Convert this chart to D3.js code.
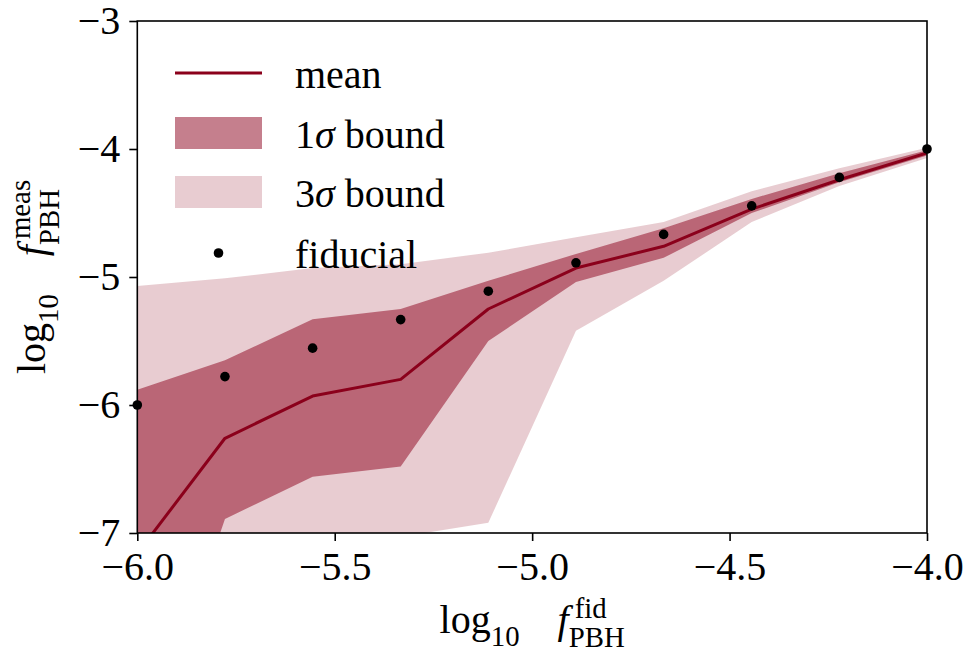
<!DOCTYPE html>
<html>
<head>
<meta charset="utf-8">
<script src="https://cdn.jsdelivr.net/npm/d3@7/dist/d3.min.js"></script>
<style>
  body { margin: 0; background: #fff; }
  svg { display: block; }
  text { font-family: "Liberation Serif", "DejaVu Serif", serif; fill: #000; }
</style>
</head>
<body>
<div id="chart"></div>
<script>
// log10 f_PBH on the fiducial grid
const fidX = [-6.000, -5.778, -5.556, -5.333, -5.111, -4.889, -4.667, -4.444, -4.222, -4.000];
// fiducial (true) value at each grid point
const fidY = [-6.000, -5.778, -5.556, -5.333, -5.111, -4.889, -4.667, -4.444, -4.222, -4.000];
// recovered mean
const meanY = [-7.16, -6.26, -5.93, -5.80, -5.25, -4.93, -4.76, -4.47, -4.24, -4.03];
// 1 sigma band
const lo1 = [-8.90, -6.89, -6.56, -6.48, -5.50, -5.04, -4.85, -4.50, -4.26, -4.05];
const hi1 = [-5.88, -5.65, -5.33, -5.25, -5.03, -4.82, -4.62, -4.39, -4.19, -4.01];
// 3 sigma band
const lo3 = [-10.5, -7.80, -7.30, -7.03, -6.92, -5.42, -5.03, -4.57, -4.29, -4.07];
const hi3 = [-5.07, -5.01, -4.93, -4.90, -4.81, -4.69, -4.57, -4.33, -4.15, -3.99];

const xTicks = [-6.0, -5.5, -5.0, -4.5, -4.0];
const yTicks = [-7, -6, -5, -4, -3];
const legendLabels = ["mean", "1σ bound", "3σ bound", "fiducial"];

const W = 973, H = 652;
const M = { left: 137.3, right: W - 927, top: 21, bottom: H - 533 };
const baseColor = "rgb(139,0,27)";
const FS = 40;

const svg = d3.select("#chart").append("svg").attr("width", W).attr("height", H);

const x = d3.scaleLinear().domain([-6, -4]).range([M.left, W - M.right]);
const y = d3.scaleLinear().domain([-7, -3]).range([H - M.bottom, M.top]);

svg.append("defs").append("clipPath").attr("id", "plotClip")
  .append("rect")
  .attr("x", M.left).attr("y", M.top)
  .attr("width", W - M.left - M.right).attr("height", H - M.top - M.bottom);

const plot = svg.append("g").attr("clip-path", "url(#plotClip)");

const idx = d3.range(fidX.length);
const band = (lo, hi) => d3.area()
  .x(i => x(fidX[i])).y0(i => y(lo[i])).y1(i => y(hi[i]));

plot.append("path").attr("d", band(lo3, hi3)(idx))
  .attr("fill", baseColor).attr("fill-opacity", 0.2);
plot.append("path").attr("d", band(lo1, hi1)(idx))
  .attr("fill", baseColor).attr("fill-opacity", 0.5);

plot.append("path")
  .attr("d", d3.line().x(i => x(fidX[i])).y(i => y(meanY[i]))(idx))
  .attr("fill", "none").attr("stroke", baseColor).attr("stroke-width", 3)
  .attr("stroke-linejoin", "round");

svg.append("g").selectAll("circle").data(idx).join("circle")
  .attr("cx", i => x(fidX[i])).attr("cy", i => y(fidY[i])).attr("r", 4.8)
  .attr("fill", "#000");

// axes
const minus = s => s.replace("-", "\u2212");
const xAxis = d3.axisBottom(x).tickValues(xTicks).tickSize(8).tickPadding(11)
  .tickFormat(d => minus(d3.format(".1f")(d)));
const yAxis = d3.axisLeft(y).tickValues(yTicks).tickSize(8).tickPadding(9)
  .tickFormat(d => minus(d3.format("d")(d)));

const gx = svg.append("g").attr("transform", `translate(0,${H - M.bottom})`).call(xAxis);
const gy = svg.append("g").attr("transform", `translate(${M.left},0)`).call(yAxis);
[gx, gy].forEach(g => {
  g.select(".domain").remove();
  g.selectAll(".tick line").attr("stroke", "#000").attr("stroke-width", 1.6);
  g.selectAll(".tick text").attr("fill", "#000")
    .style("font-size", FS + "px")
    .style("font-family", '"Liberation Serif", "DejaVu Serif", serif');
});
gx.selectAll(".tick text").attr("dy", "0.71em");

svg.append("rect")
  .attr("x", M.left).attr("y", M.top)
  .attr("width", W - M.left - M.right).attr("height", H - M.top - M.bottom)
  .attr("fill", "none").attr("stroke", "#000").attr("stroke-width", 1.6);

// math-style axis labels built from pieces
function mathLabel(parent, parts, B) {
  const g = parent.append("g");
  let cx = 0;
  for (const p of parts) {
    if (p.gap) { cx += p.gap * B; continue; }
    if (p.stack) {
      let maxw = 0;
      for (const q of p.stack) {
        const off = (q.dx || 0) * B;
        const t = g.append("text").attr("x", cx + off).attr("y", q.dy * B)
          .style("font-size", q.s * B + "px").text(q.t);
        maxw = Math.max(maxw, off + t.node().getComputedTextLength());
      }
      cx += maxw;
      continue;
    }
    const t = g.append("text").attr("x", cx).attr("y", (p.dy || 0) * B)
      .style("font-size", (p.s || 1) * B + "px")
      .style("font-style", p.it ? "italic" : null).text(p.t);
    cx += t.node().getComputedTextLength();
  }
  return { g, width: cx };
}

const labelParts = sup => [
  { t: "log" },
  { t: "10", s: 0.72, dy: 0.33 },
  { gap: 0.95 },
  { t: "f", it: true },
  { stack: [ { t: sup, s: 0.72, dy: -0.38, dx: 0.15 }, { t: "PBH", s: 0.72, dy: 0.35 } ] }
];

const xl = mathLabel(svg, labelParts("fid"), 40);
xl.g.attr("transform", `translate(${(M.left + W - M.right) / 2 - xl.width / 2},633)`);

const yl = mathLabel(svg, labelParts("meas"), 40);
yl.g.attr("transform", `translate(45,${(M.top + H - M.bottom) / 2}) rotate(-90) translate(${-yl.width / 2},0)`);

// legend
const leg = svg.append("g");
const rowY = [73, 133, 192, 253];
leg.append("line").attr("x1", 175).attr("x2", 262).attr("y1", rowY[0]).attr("y2", rowY[0])
  .attr("stroke", baseColor).attr("stroke-width", 3);
leg.append("rect").attr("x", 175).attr("y", rowY[1] - 16).attr("width", 87).attr("height", 32)
  .attr("fill", baseColor).attr("fill-opacity", 0.5);
leg.append("rect").attr("x", 175).attr("y", rowY[2] - 16).attr("width", 87).attr("height", 32)
  .attr("fill", baseColor).attr("fill-opacity", 0.2);
leg.append("circle").attr("cx", 218.5).attr("cy", rowY[3]).attr("r", 4.8).attr("fill", "#000");

legendLabels.forEach((lab, i) => {
  const t = leg.append("text").attr("x", 295).attr("y", rowY[i] + 15).style("font-size", FS + "px");
  const m = lab.match(/^(\d)(σ)(.*)$/);
  if (m) {
    t.append("tspan").text(m[1]);
    t.append("tspan").style("font-style", "italic").text(m[2]);
    t.append("tspan").text(m[3]);
  } else {
    t.text(lab);
  }
});
</script>
</body>
</html>
